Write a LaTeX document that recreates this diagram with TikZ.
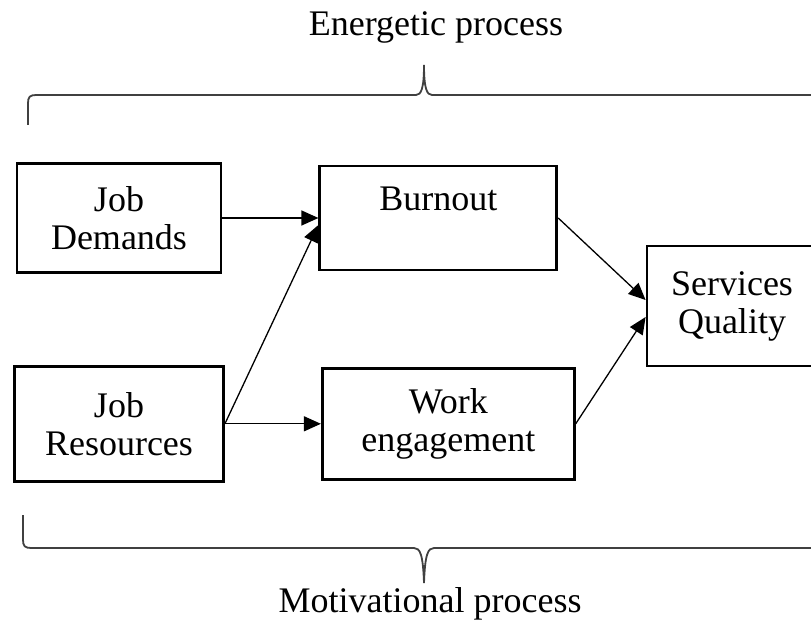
\documentclass[tikz,border=0pt]{standalone}
\usepackage{fontspec}
\setmainfont{Liberation Serif}
\usetikzlibrary{arrows.meta,positioning,calc}

\begin{document}
\begin{tikzpicture}[
  x=1pt, y=1pt,
  font=\fontsize{36}{38}\selectfont,
  >={Triangle[length=17pt,width=15pt]},
  box/.style={draw, line width=2.8pt, align=center, inner sep=0pt},
  arrow/.style={->, line width=1.3pt},
  brace/.style={line width=1.8pt, black!75}
]
  \useasboundingbox (0,0) rectangle (811,619);
  \clip (0,0) rectangle (811,619);

  \node[box, minimum width=204pt, minimum height=109pt] (jd) at (119,401) {Job\\Demands};
  \node[box, minimum width=237pt, minimum height=104pt, right=96pt of jd] (bo) {Burnout\\\mbox{}};
  \node[box, minimum width=209pt, minimum height=115pt, below=91pt of jd] (jr) {Job\\Resources};
  \node[box, minimum width=252pt, minimum height=111pt, right=96pt of jr] (we) {Work\\engagement};
  \node[box, minimum width=170pt, minimum height=120pt] (sq) at (732,313) {Services\\Quality};

  \node[anchor=base] (energetic) at (436,583) {Energetic process};
  \node[anchor=base] (motivational) at (430,7) {Motivational process};

  % braces
  \draw[brace] (28,494) -- (28,516) .. controls (28,522) and (30,524) .. (36,524)
    -- (416,524) .. controls (421,524) and (424,530) .. (424,554)
    .. controls (424,530) and (427,524) .. (432,524) -- (812,524)
    .. controls (818,524) and (820,522) .. (820,516) -- (820,494);
  \draw[brace] (23,104) -- (23,79) .. controls (23,73) and (25,71) .. (31,71)
    -- (414,71) .. controls (420,71) and (423,65) .. (424,36)
    .. controls (425,65) and (428,71) .. (434,71) -- (817,71)
    .. controls (823,71) and (825,73) .. (825,79) -- (825,104);

  \draw[arrow] (jd.east) -- (bo.west);
  \draw[arrow] (jr.east) -- ($(bo.west)+(0,-7)$);
  \draw[arrow] (jr.east) -- (we.west);
  \draw[arrow] (bo.east) -- ($(sq.west)+(0,6)$);
  \draw[arrow] (we.east) -- ($(sq.west)+(0,-11)$);
\end{tikzpicture}
\end{document}
